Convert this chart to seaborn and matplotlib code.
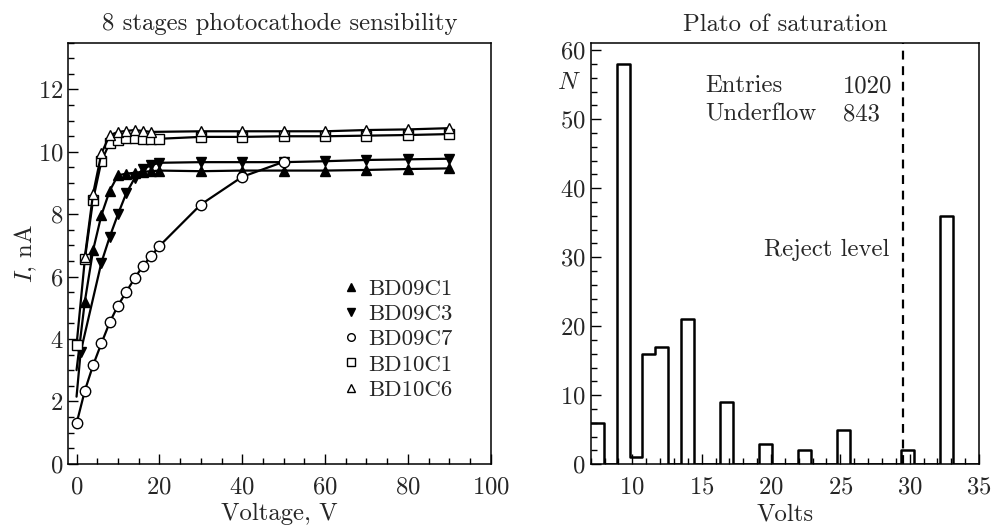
import numpy as np
import pandas as pd
import matplotlib
matplotlib.use("Agg")
import matplotlib.pyplot as plt
from matplotlib.lines import Line2D
from matplotlib.ticker import MultipleLocator
import seaborn as sns

# ---------------- data: left panel ----------------
v_bd09c1 = [0, 2, 4, 6, 8, 10, 12, 14, 16, 18, 20, 30, 40, 50, 60, 70, 80, 90]
i_bd09c1 = [3.0, 5.2, 6.85, 7.97, 8.75, 9.25, 9.3, 9.33, 9.36, 9.38, 9.4, 9.38, 9.4, 9.4, 9.4, 9.42, 9.45, 9.47]

v_bd09c3 = [0, 1, 6, 8, 10, 12, 14, 16, 18, 20, 30, 40, 50, 60, 70, 80, 90]
i_bd09c3 = [2.15, 3.59, 6.45, 7.27, 8.0, 8.67, 9.15, 9.45, 9.57, 9.65, 9.67, 9.67, 9.67, 9.7, 9.74, 9.76, 9.78]

v_bd09c7 = [0, 2, 4, 6, 8, 10, 12, 14, 16, 18, 20, 30, 40, 50]
i_bd09c7 = [1.29, 2.34, 3.16, 3.86, 4.53, 5.07, 5.51, 5.94, 6.34, 6.66, 6.98, 8.31, 9.2, 9.68]

v_bd10c1 = [0, 2, 4, 6, 8, 10, 12, 14, 16, 18, 20, 30, 40, 50, 60, 70, 80, 90]
i_bd10c1 = [3.8, 6.55, 8.47, 9.7, 10.29, 10.37, 10.43, 10.46, 10.4, 10.4, 10.42, 10.48, 10.48, 10.5, 10.5, 10.52, 10.54, 10.57]

v_bd10c6 = [2, 4, 6, 8, 10, 12, 14, 16, 18, 30, 40, 50, 60, 70, 80, 90]
i_bd10c6 = [6.63, 8.66, 9.95, 10.53, 10.64, 10.67, 10.7, 10.67, 10.64, 10.66, 10.66, 10.66, 10.66, 10.7, 10.72, 10.76]

series_names = ["BD09C1", "BD09C3", "BD09C7", "BD10C1", "BD10C6"]
# first point of these series is an unmarked curve end
unmarked_first = [True, True, False, False, False]

# ---------------- data: right panel ----------------
bin_edges = list(np.linspace(7, 35, 31))
counts = [6, 0, 58, 1, 16, 17, 0, 21, 0, 0, 9, 0, 0, 3, 0, 0, 2, 0, 0, 5,
          0, 0, 0, 0, 2, 0, 0, 36, 0, 0]
reject_level = 29.5
entries = 1020
underflow = 843

# ---------------- style ----------------
sns.set_theme(style="ticks")
plt.rcParams["font.family"] = ["cmr10", "DejaVu Serif"]
plt.rcParams["mathtext.fontset"] = "cm"
plt.rcParams["axes.formatter.use_mathtext"] = True
plt.rcParams["axes.unicode_minus"] = False
plt.rcParams["xtick.direction"] = "in"
plt.rcParams["ytick.direction"] = "in"

FS = 17.8
fig = plt.figure(figsize=(9.95, 5.26), dpi=100)
axL = fig.add_axes([0.0686, 0.1184, 0.4246, 0.8004])
axR = fig.add_axes([0.5937, 0.1173, 0.3902, 0.8004])

# ---- left panel ----
styles = [
    (v_bd09c1, i_bd09c1, "^", "black"),
    (v_bd09c3, i_bd09c3, "v", "black"),
    (v_bd09c7, i_bd09c7, "o", "white"),
    (v_bd10c1, i_bd10c1, "s", "white"),
    (v_bd10c6, i_bd10c6, "^", "white"),
]
for (vx, iy, mk, fc), name, skip in zip(styles, series_names, unmarked_first):
    df = pd.DataFrame({"V": vx, "I": iy})
    me = list(range(1 if skip else 0, len(vx)))
    sns.lineplot(data=df, x="V", y="I", ax=axL, color="black", lw=1.6,
                 marker=mk, markersize=7.5, markerfacecolor=fc,
                 markeredgecolor="black", markeredgewidth=1.0, legend=False,
                 markevery=me)

axL.set_xlim(-2, 100)
axL.set_ylim(0, 13.5)
axL.xaxis.set_major_locator(MultipleLocator(20))
axL.xaxis.set_minor_locator(MultipleLocator(5))
axL.yaxis.set_major_locator(MultipleLocator(2))
axL.yaxis.set_minor_locator(MultipleLocator(0.5))
axL.set_title("8 stages photocathode sensibility", fontsize=FS, pad=9)
axL.set_xlabel("Voltage, V", fontsize=FS, labelpad=3)
axL.set_ylabel(r"$I$, nA", fontsize=FS, labelpad=-1)

handles = [Line2D([], [], linestyle="none", marker=mk, markersize=5.5,
                  markerfacecolor=fc, markeredgecolor="black", markeredgewidth=1.0)
           for (_, _, mk, fc) in styles]
axL.legend(handles, series_names, loc="upper left", bbox_to_anchor=(0.625, 0.46),
           frameon=False, prop={"family": "cmr10", "size": 16.5},
           handlelength=0.8, handletextpad=0.35,
           labelspacing=0.22, borderaxespad=0)

# ---- right panel ----
centers = [(a + b) / 2 for a, b in zip(bin_edges[:-1], bin_edges[1:])]
hist_df = pd.DataFrame({"Volts": centers, "N": counts})
sns.histplot(data=hist_df, x="Volts", weights="N", bins=bin_edges, element="step",
             fill=False, color="black", linewidth=1.8, ax=axR)
axR.axvline(reject_level, color="black", ls=(0, (4, 3)), lw=1.6)
axR.set_xlim(7, 35)
axR.set_ylim(0, 61)
axR.xaxis.set_major_locator(MultipleLocator(5))
axR.xaxis.set_minor_locator(MultipleLocator(1))
axR.yaxis.set_major_locator(MultipleLocator(10))
axR.yaxis.set_minor_locator(MultipleLocator(2))
axR.set_title("Plato of saturation", fontsize=FS, pad=9)
axR.set_xlabel("Volts", fontsize=FS, labelpad=3)
axR.set_ylabel("")
axR.text(-0.055, 0.905, r"$N$", transform=axR.transAxes, fontsize=FS,
         ha="center", va="center")
axR.text(0.294, 0.898, "Entries", transform=axR.transAxes, fontsize=FS, va="center")
axR.text(0.65, 0.898, f"{entries}", transform=axR.transAxes, fontsize=FS, va="center")
axR.text(0.294, 0.832, "Underflow", transform=axR.transAxes, fontsize=FS, va="center")
axR.text(0.65, 0.832, f"{underflow}", transform=axR.transAxes, fontsize=FS, va="center")
axR.text(0.768, 0.509, "Reject level", transform=axR.transAxes, fontsize=FS,
         ha="right", va="center")

for ax in (axL, axR):
    for s in ax.spines.values():
        s.set_linewidth(1.1)
        s.set_color("black")
    ax.tick_params(which="major", length=7.5, width=1.0, labelsize=FS, color="black")
    ax.tick_params(which="minor", length=4.5, width=1.0, color="black")
    ax.tick_params(axis="x", pad=9)

fig.savefig("out.png", dpi=100)
